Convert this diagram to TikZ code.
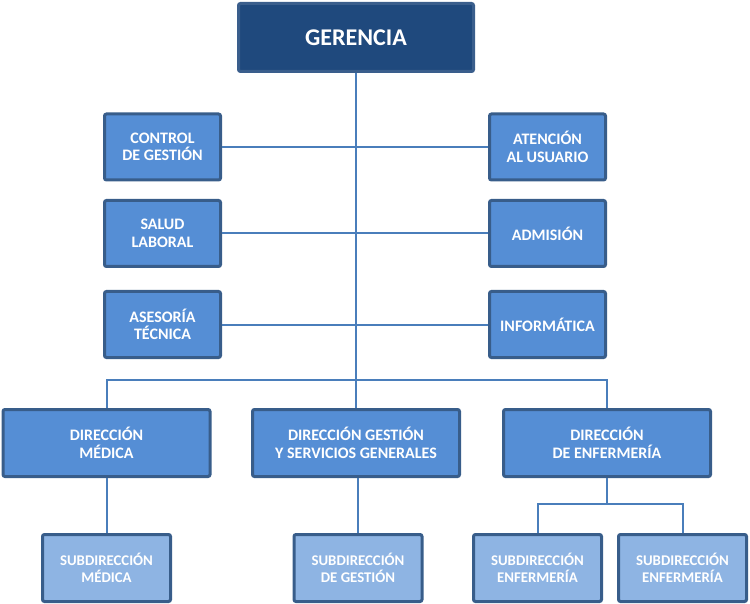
\documentclass[tikz,border=0pt]{standalone}
\usepackage{fontspec}
\setmainfont{Carlito}
\definecolor{gerfill}{HTML}{1F497D}
\definecolor{gerdraw}{HTML}{3A5E8C}
\definecolor{midfill}{HTML}{558ED5}
\definecolor{lowfill}{HTML}{8EB4E3}
\definecolor{boxdraw}{HTML}{385D8A}
\definecolor{linecol}{HTML}{4A7EBB}
\begin{document}
\begin{tikzpicture}[x=1pt,y=-1pt,
  base/.style={draw=boxdraw, line width=3pt, rounded corners=2pt, text=white, align=center, inner sep=0pt},
  gerbox/.style={base, fill=gerfill, draw=gerdraw, minimum width=235pt, minimum height=68pt, font=\bfseries\fontsize{24}{27}\selectfont},
  smallbox/.style={base, fill=midfill, minimum width=116pt, minimum height=66pt, font=\bfseries\fontsize{16}{17.5}\selectfont},
  dirbox/.style={base, fill=midfill, minimum width=207pt, minimum height=67pt, font=\bfseries\fontsize{16}{17.5}\selectfont},
  subbox/.style={base, fill=lowfill, minimum width=128pt, minimum height=67pt, font=\bfseries\fontsize{14.8}{16.8}\selectfont},
  conn/.style={draw=linecol, line width=2pt}]
\useasboundingbox (0,0) rectangle (750,604);
% nodes
\node[gerbox] (ger) at (356,37.5) {GERENCIA};
\node[smallbox] (cg) at (162.5,147) {CONTROL\\DE GESTIÓN};
\node[smallbox] (au) at (547.5,147) {ATENCIÓN\\AL USUARIO};
\node[smallbox] (sl) at (162.5,233.5) {SALUD\\LABORAL};
\node[smallbox] (ad) at (547.5,233.5) {ADMISIÓN};
\node[smallbox] (at) at (162.5,324.5) {ASESORÍA\\TÉCNICA};
\node[smallbox] (inf) at (547.5,324.5) {INFORMÁTICA};
\node[dirbox] (dm) at (106.5,443) {DIRECCIÓN\\MÉDICA};
\node[dirbox] (dg) at (356,443) {DIRECCIÓN GESTIÓN\\Y SERVICIOS GENERALES};
\node[dirbox] (de) at (607,443) {DIRECCIÓN\\DE ENFERMERÍA};
\node[subbox] (sm) at (106.5,568) {SUBDIRECCIÓN\\MÉDICA};
\node[subbox] (sg) at (358,568) {SUBDIRECCIÓN\\DE GESTIÓN};
\node[subbox] (se1) at (537.5,568) {SUBDIRECCIÓN\\ENFERMERÍA};
\node[subbox] (se2) at (682.5,568) {SUBDIRECCIÓN\\ENFERMERÍA};
\coordinate (bus) at (356,380);
\coordinate (ebus) at (607,504);
% connectors
\path[conn] (cg.east) -- (au.west);
\path[conn] (sl.east) -- (ad.west);
\path[conn] (at.east) -- (inf.west);
\path[conn] (ger.south) -- (dg.north);
\path[conn] (dm.north) |- (bus) -| (de.north);
\path[conn] (dm.south) -- (sm.north);
\path[conn] (dg.south -| sg.north) -- (sg.north);
\path[conn] (de.south) -- (ebus) -| (se1.north);
\path[conn] (ebus) -| (se2.north);
\end{tikzpicture}
\end{document}
